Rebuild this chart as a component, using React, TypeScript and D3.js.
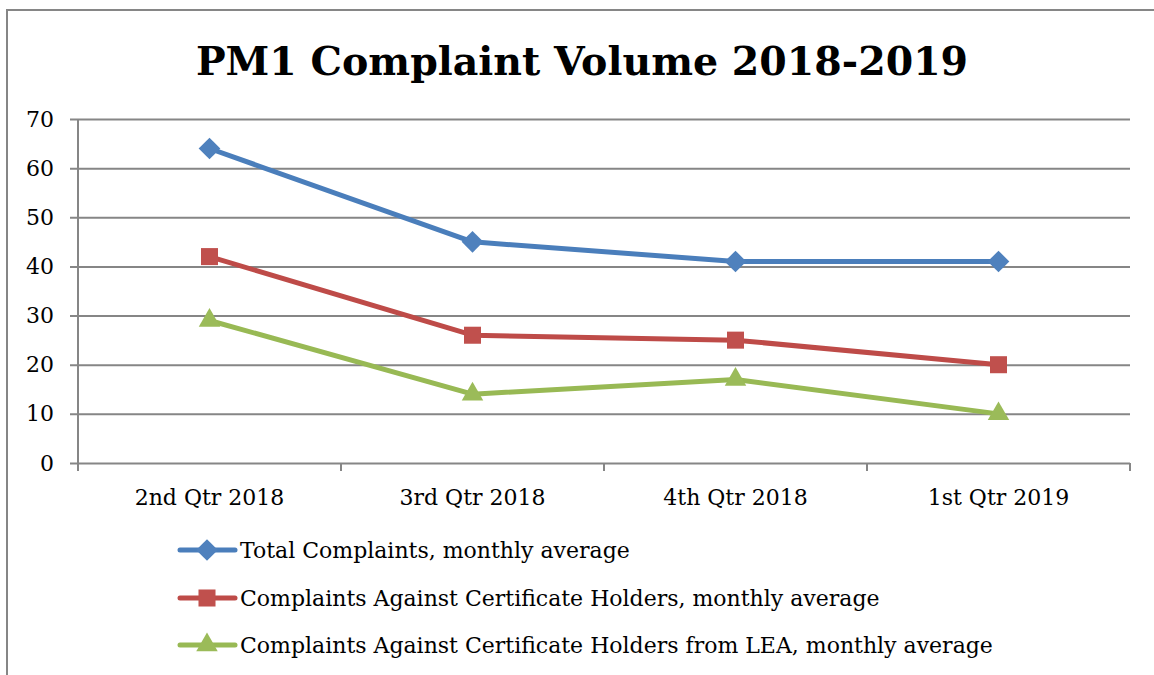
import React, { useEffect, useRef } from 'react';
import * as d3 from 'd3';

const categories = ['2nd Qtr 2018', '3rd Qtr 2018', '4th Qtr 2018', '1st Qtr 2019'];
const totalComplaints = [64, 45, 41, 41];
const certHolders = [42, 26, 25, 20];
const certHoldersLEA = [29, 14, 17, 10];
const seriesNames = [
  'Total Complaints, monthly average',
  'Complaints Against Certificate Holders, monthly average',
  'Complaints Against Certificate Holders from LEA, monthly average',
];
const yTicks = [0, 10, 20, 30, 40, 50, 60, 70];

const FONT = '"DejaVu Serif", "Liberation Serif", serif';

const App = () => {
  const svgRef = useRef<SVGSVGElement>(null);

  useEffect(() => {
    const W = 1154;
    const H = 675;
    const plot = { left: 78, right: 1130, top: 119, bottom: 463 };

    const svg = d3.select(svgRef.current).attr('width', W).attr('height', H);
    svg.selectAll('*').remove();

    // outer chart border
    svg
      .append('rect')
      .attr('x', 7)
      .attr('y', 10)
      .attr('width', W + 10)
      .attr('height', H + 10)
      .attr('fill', '#fff')
      .attr('stroke', '#868686')
      .attr('stroke-width', 2);

    svg
      .append('text')
      .attr('x', 582)
      .attr('y', 75)
      .attr('text-anchor', 'middle')
      .attr('font-family', FONT)
      .attr('font-weight', 'bold')
      .attr('font-size', 39.5)
      .text('PM1 Complaint Volume 2018-2019');

    const x = d3.scaleBand().domain(categories).range([plot.left, plot.right]);
    const y = d3.scaleLinear().domain([0, 70]).range([plot.bottom, plot.top]);
    const cx = (c: string) => (x(c) as number) + x.bandwidth() / 2;

    // gridlines + y axis
    const yAxis = svg
      .append('g')
      .attr('transform', `translate(${plot.left},0)`)
      .call(
        d3
          .axisLeft(y)
          .tickValues(yTicks)
          .tickSize(8)
          .tickPadding(16)
      );
    yAxis.select('.domain').remove();
    yAxis
      .selectAll('.tick line')
      .attr('x2', plot.right - plot.left)
      .attr('x1', -8)
      .attr('stroke', '#868686')
      .attr('stroke-width', 2);
    yAxis
      .selectAll('.tick text')
      .attr('font-family', FONT)
      .attr('font-size', 22)
      .attr('fill', '#000');

    svg
      .append('line')
      .attr('x1', plot.left)
      .attr('x2', plot.left)
      .attr('y1', plot.top)
      .attr('y2', plot.bottom + 8)
      .attr('stroke', '#868686')
      .attr('stroke-width', 2);

    // category boundary ticks
    const bounds = categories.map((c) => x(c) as number).concat([plot.right]);
    svg
      .append('g')
      .selectAll('line')
      .data(bounds.slice(1))
      .join('line')
      .attr('x1', (d) => d)
      .attr('x2', (d) => d)
      .attr('y1', plot.bottom)
      .attr('y2', plot.bottom + 8)
      .attr('stroke', '#868686')
      .attr('stroke-width', 2);

    svg
      .append('g')
      .selectAll('text')
      .data(categories)
      .join('text')
      .attr('x', (d) => cx(d))
      .attr('y', 505)
      .attr('text-anchor', 'middle')
      .attr('font-family', FONT)
      .attr('font-size', 22)
      .text((d) => d);

    const series = [
      { name: seriesNames[0], values: totalComplaints, line: '#4A7EBB', fill: '#4F81BD', shape: d3.symbolDiamond2 },
      { name: seriesNames[1], values: certHolders, line: '#BE4B48', fill: '#C0504D', shape: d3.symbolSquare },
      { name: seriesNames[2], values: certHoldersLEA, line: '#98B954', fill: '#9BBB59', shape: d3.symbolTriangle },
    ];

    const lineGen = d3
      .line<number>()
      .x((_, i) => cx(categories[i]))
      .y((d) => y(d));

    const markerSize = (shape: d3.SymbolType) =>
      shape === d3.symbolSquare ? 290 : shape === d3.symbolTriangle ? 200 : 300;

    series.forEach((s) => {
      svg
        .append('path')
        .datum(s.values)
        .attr('d', lineGen)
        .attr('fill', 'none')
        .attr('stroke', s.line)
        .attr('stroke-width', 5)
        .attr('stroke-linejoin', 'round');
      svg
        .append('g')
        .selectAll('path')
        .data(s.values)
        .join('path')
        .attr('transform', (d, i) => `translate(${cx(categories[i])},${y(d)})`)
        .attr('d', d3.symbol().type(s.shape).size(markerSize(s.shape)))
        .attr('fill', s.fill);
    });

    // legend
    const legendY = [550, 598, 645];
    series.forEach((s, i) => {
      const g = svg.append('g').attr('transform', `translate(0,${legendY[i]})`);
      g.append('line')
        .attr('x1', 180)
        .attr('x2', 235)
        .attr('stroke', s.line)
        .attr('stroke-width', 5)
        .attr('stroke-linecap', 'round');
      g.append('path')
        .attr('transform', 'translate(207,0)')
        .attr('d', d3.symbol().type(s.shape).size(markerSize(s.shape)))
        .attr('fill', s.fill);
      g.append('text')
        .attr('x', 240)
        .attr('y', 8)
        .attr('font-family', FONT)
        .attr('font-size', 22)
        .text(s.name);
    });
  }, []);

  return <svg ref={svgRef} style={{ position: 'absolute', left: 0, top: 0 }}></svg>;
};

export default App;
